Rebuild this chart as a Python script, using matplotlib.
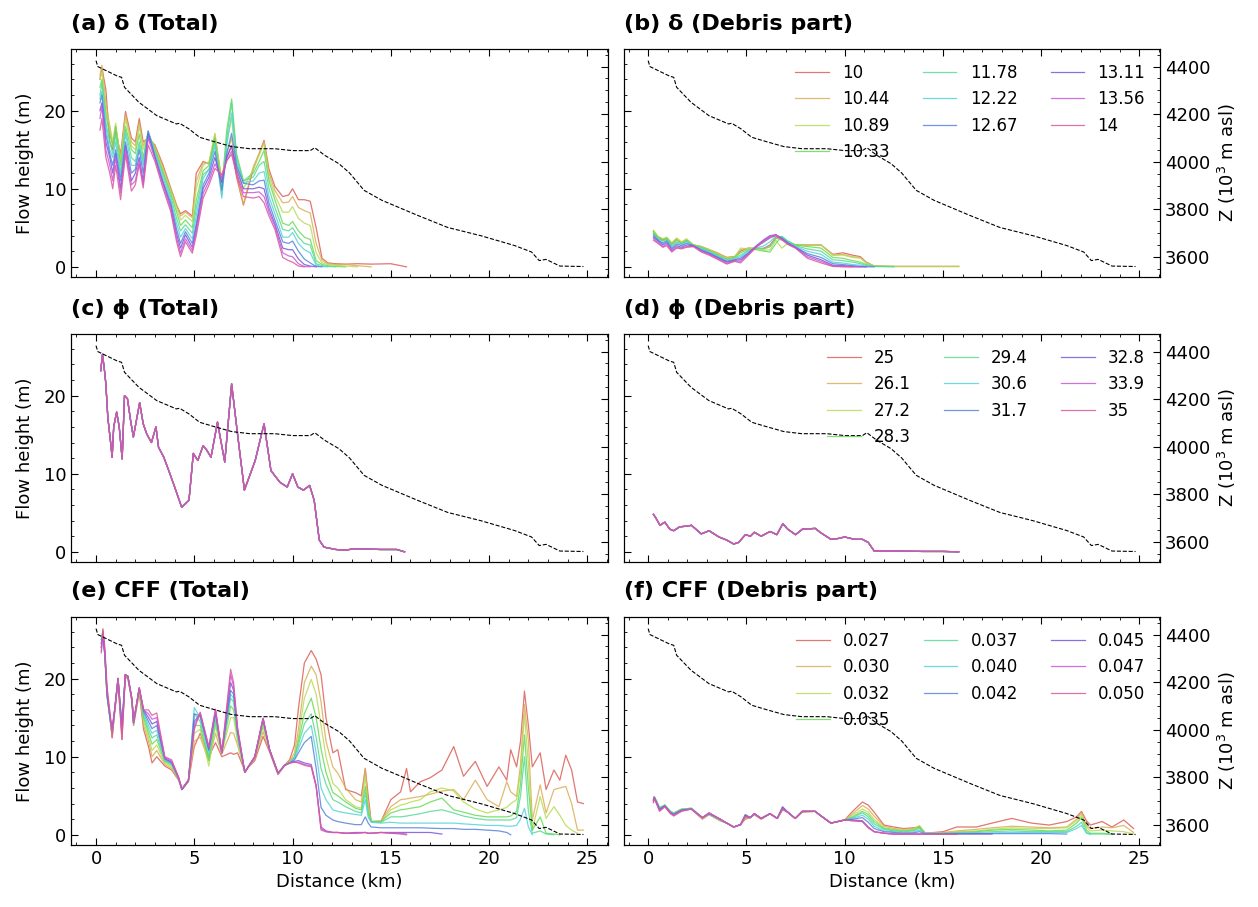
import numpy as np
import matplotlib
matplotlib.use("Agg")
import matplotlib.pyplot as plt
import seaborn as sns
from matplotlib.ticker import MultipleLocator

N = None

# ===== elevation profile (same in every panel) =====
dist_z = [0, 0.09, 1.09, 1.3, 1.45, 2.18, 3.09, 4.09, 4.25, 4.73, 5.27, 6.0, 6.9, 7.82, 9.09,
          10.0, 10.9, 11.13, 11.64, 12.36, 12.9, 13.64, 14.55, 15.27, 16.36, 17.9, 19.6, 21.3,
          22.16, 22.55, 22.9, 23.6, 24.8]
elev_z = [4425, 4400, 4360, 4355, 4313, 4250, 4194, 4159, 4162, 4138, 4103, 4085, 4064, 4055, 4055,
          4047, 4047, 4059, 4027, 3992, 3953, 3880, 3838, 3813, 3775, 3724, 3689, 3648,
          3621, 3585, 3590, 3562, 3560]

# ===== legend labels =====
lab_delta = ["10", "10.44", "10.89", "10.33", "11.78", "12.22", "12.67", "13.11", "13.56", "14"]
lab_phi = ["25", "26.1", "27.2", "28.3", "29.4", "30.6", "31.7", "32.8", "33.9", "35"]
lab_cff = ["0.027", "0.030", "0.032", "0.035", "0.037", "0.040", "0.042", "0.045", "0.047", "0.050"]

# ===== (a) delta, total flow height: one row per distance, one column per value =====
dist_a = [0.2, 0.3, 0.5, 0.7, 0.85, 1.0, 1.25, 1.5, 1.8, 2.0, 2.2, 2.4, 2.65, 3.0, 3.4, 3.8, 4.1,
          4.3, 4.55, 4.9, 5.1, 5.45, 5.75, 6.05, 6.4, 6.65, 6.9, 7.15, 7.5, 8.0, 8.3, 8.55, 8.8,
          9.1, 9.5, 9.8, 10.0, 10.3, 10.6, 10.9, 11.2, 11.5, 11.8, 12.2, 12.7, 13.3, 14.0, 15.0, 15.8]
h_a = [
    [24, 24.5, 24, 23, 22, 21.5, 21, 20, 19, 17.5],
    [25.5, 25.8, 25, 24, 23.5, 22.5, 22, 21, 20.5, 19],
    [22.7, 21, 20, 19.5, 18.5, 18, 17, 16, 15, 14],
    [16, 18, 18, 17, 16, 15, 14.5, 14, 13, 12],
    [15, 15.5, 16, 15.5, 14.5, 14, 13, 12, 11, 10],
    [17.5, 18, 18.4, 18, 17, 16, 15, 14.5, 14, 13],
    [14.4, 14, 13.5, 13, 12, 11.5, 11, 10, 9.5, 8.6],
    [19.9, 19.5, 19, 18, 17.5, 17, 16, 15.5, 15, 14.4],
    [16.5, 16, 15.5, 15, 14, 13, 12, 11, 10.5, 9.7],
    [16, 15.5, 15, 14.5, 13.5, 13, 12.5, 12, 11, 10.5],
    [19, 18.5, 18, 17, 16, 15.5, 15, 14, 13.5, 13.1],
    [16, 15.5, 15, 14, 13.5, 13, 12, 11, 10.5, 10.1],
    [16.5, 16.8, 17, 17.2, 17.3, 17.4, 17.4, 17, 16.5, 15.6],
    [15.6, 15.4, 15.2, 15, 14.8, 14.5, 14.2, 14, 13.8, 13.5],
    [13.1, 12.8, 12.5, 12.2, 11.9, 11.5, 11, 10.8, 10.5, 10.1],
    [10.1, 9.9, 9.7, 9.4, 9, 8.6, 8.2, 7.8, 7.5, 7.1],
    [7.9, 7.9, 7.5, 7, 6.2, 5.5, 4.8, 4.2, 3.7, 3.2],
    [6.8, 6.5, 6, 5.3, 4.6, 3.8, 3, 2.4, 1.8, 1.3],
    [7.2, 7, 6.6, 6, 5.4, 4.9, 4.5, 4.1, 3.6, 3.2],
    [6.5, 6.3, 5.8, 5.0, 4.3, 3.6, 3.0, 2.5, 2.1, 1.75],
    [12, 11, 10, 8.5, 7.5, 6.5, 5.5, 5, 4.5, 4],
    [13.5, 13.3, 13, 12.3, 11.8, 11.3, 10.5, 10, 9.4, 8.8],
    [13.2, 13.2, 13.5, 13, 12.5, 12.5, 12, 11.5, 11, 10.5],
    [16.5, 17, 17.1, 16.5, 16, 15.5, 14.8, 14, 13.2, 12.6],
    [11, 11, 10.5, 10, 9.2, 8.8, 9.8, 10.8, 11.4, 11.8],
    [14, 14.5, 16, 17.5, 16.5, 15.5, 14.5, 14, 13.6, 13.6],
    [15.5, 16.5, 19, 21.5, 21, 19.7, 17.1, 15.5, 14.8, 14.4],
    [11.5, 12, 13, 14.5, 14, 13.5, 13, 12.5, 12, 11.8],
    [7.9, 8.0, 10, 11, 11, 10.8, 10.7, 10, 9.5, 9],
    [12.5, 12.8, 12.5, 12, 11.5, 11, 10.5, 10, 9.5, 8.8],
    [14.5, 14.5, 14.3, 13.5, 13, 12, 11, 10.2, 9.6, 9],
    [16.2, 16, 15.8, 14.9, 13.5, 12.2, 11.1, 10.0, 9.0, 8.2],
    [12.5, 12, 11.5, 11, 10, 9, 8.2, 7.5, 7, 6.5],
    [10.3, 9.8, 9.2, 8.6, 7.6, 6.8, 6, 5.5, 5.2, 4.8],
    [9.0, 8.2, 7.0, 5.6, 4.8, 3.8, 3.2, 2.4, 1.8, 1.2],
    [9.2, 8.3, 7.0, 5.3, 4.6, 3.8, 3.0, 2.2, 1.4, 0.8],
    [10.0, 9.0, 7.7, 5.8, 5.0, 4.4, 3.3, 2.2, 1.3, 0.6],
    [8.6, 7.6, 6.2, 4.6, 3.8, 3.0, 2.0, 1.0, 0.4, 0.1],
    [8.6, 7.2, 5.6, 3.8, 3.0, 2.2, 1.0, 0.3, 0.05, 0.0],
    [8.4, 6.9, 5.3, 3.5, 2.8, 1.8, 0.5, 0.1, 0.0, N],
    [5.0, 3.0, 1.8, 0.8, 0.4, 0.2, 0.05, 0.0, N, N],
    [1.1, 0.8, 0.5, 0.3, 0.15, 0.05, 0.0, N, N, N],
    [0.5, 0.4, 0.3, 0.15, 0.05, 0.0, N, N, N, N],
    [0.4, 0.3, 0.2, 0.05, 0.0, N, N, N, N, N],
    [0.35, 0.3, 0.1, 0.0, N, N, N, N, N, N],
    [0.4, 0.15, 0.0, N, N, N, N, N, N, N],
    [0.35, 0.0, N, N, N, N, N, N, N, N],
    [0.4, N, N, N, N, N, N, N, N, N],
    [0.0, N, N, N, N, N, N, N, N, N],
]

# ===== (b) delta, debris part =====
dist_b = [0.27, 0.5, 0.75, 0.95, 1.2, 1.45, 1.7, 1.95, 2.3, 2.7, 3.1, 3.5, 4.0, 4.4, 4.7, 5.1, 5.5,
          5.9, 6.2, 6.5, 6.8, 7.1, 7.5, 8.1, 8.8, 9.4, 9.9, 10.4, 10.8, 11.1, 11.5, 12.5, 14.0, 15.8]
h_b = [
    [4.3, 4.6, 4.7, 4.5, 4.3, 4.1, 4.0, 3.8, 3.6, 3.4],
    [3.6, 3.8, 3.9, 3.8, 3.6, 3.5, 3.4, 3.3, 3.1, 3.0],
    [3.4, 3.5, 3.6, 3.5, 3.3, 3.1, 3.0, 2.8, 2.6, 2.5],
    [3.7, 3.7, 3.8, 3.6, 3.5, 3.4, 3.3, 3.1, 2.9, 2.7],
    [2.9, 3.0, 3.1, 2.9, 2.7, 2.6, 2.4, 2.2, 2.0, 1.9],
    [3.6, 3.6, 3.7, 3.4, 3.2, 3.1, 2.9, 2.7, 2.5, 2.4],
    [3.0, 3.1, 3.2, 3.0, 2.9, 2.8, 2.7, 2.5, 2.4, 2.3],
    [3.4, 3.5, 3.6, 3.4, 3.3, 3.2, 3.0, 2.8, 2.6, 2.5],
    [2.8, 2.8, 2.8, 2.8, 2.7, 2.7, 2.7, 2.7, 2.6, 2.6],
    [2.6, 2.6, 2.6, 2.5, 2.4, 2.3, 2.2, 2.1, 2.0, 1.9],
    [2.2, 2.2, 2.2, 2.1, 2.0, 1.9, 1.8, 1.7, 1.6, 1.5],
    [1.8, 1.8, 1.7, 1.6, 1.5, 1.4, 1.3, 1.2, 1.1, 1.0],
    [1.2, 1.2, 1.1, 1.0, 0.9, 0.8, 0.7, 0.6, 0.45, 0.35],
    [1.3, 1.3, 1.25, 1.2, 1.1, 1.0, 0.9, 0.85, 0.75, 0.7],
    [2.0, 2.2, 2.4, 1.8, 1.5, 1.3, 1.1, 0.9, 0.7, 0.5],
    [2.4, 2.4, 2.3, 2.2, 2.1, 2.0, 1.8, 1.7, 1.6, 1.5],
    [2.3, 2.4, 2.5, 2.2, 2.3, 2.4, 2.6, 2.7, 2.6, 2.5],
    [2.4, 2.3, 2.1, 2.0, 2.3, 2.7, 3.2, 3.5, 3.4, 3.3],
    [2.8, 2.6, 2.2, 1.9, 2.6, 3.2, 3.7, 4.0, 3.9, 3.8],
    [3.8, 3.7, 3.4, 3.0, 3.6, 4.0, 4.1, 4.1, 4.1, 4.0],
    [3.6, 3.4, 2.4, 3.9, 3.9, 3.8, 3.7, 3.6, 3.5, 3.5],
    [3.2, 3.2, 3.0, 3.3, 3.3, 3.2, 3.1, 3.0, 2.9, 2.9],
    [2.8, 2.8, 2.8, 2.8, 2.7, 2.6, 2.5, 2.5, 2.4, 2.4],
    [2.8, 2.8, 2.8, 2.6, 2.3, 2.0, 1.7, 1.5, 1.3, 1.1],
    [2.8, 2.8, 2.8, 2.4, 2.0, 1.6, 1.2, 0.9, 0.7, 0.5],
    [1.6, 1.5, 1.5, 1.2, 0.9, 0.6, 0.4, 0.2, 0.1, 0.05],
    [1.8, 1.6, 1.5, 1.1, 0.8, 0.5, 0.3, 0.15, 0.05, 0.0],
    [1.5, 1.3, 1.2, 0.8, 0.6, 0.3, 0.15, 0.05, 0.0, 0.0],
    [1.3, 1.2, 1.1, 0.6, 0.4, 0.2, 0.05, 0.0, 0.0, N],
    [0.6, 0.5, 0.5, 0.3, 0.2, 0.1, 0.0, 0.0, N, N],
    [0.1, 0.1, 0.1, 0.05, 0.05, 0.05, 0.0, N, N, N],
    [0.05, 0.05, 0.05, 0.05, 0.0, N, N, N, N, N],
    [0.05, 0.05, 0.05, N, N, N, N, N, N, N],
    [0.05, 0.05, 0.05, N, N, N, N, N, N, N],
]

# ===== (c) phi, total: all ten runs overlap =====
dist_c = [0.24, 0.33, 0.45, 0.5, 0.6, 0.73, 0.82, 0.9, 1.05, 1.18, 1.33, 1.45, 1.6, 1.76, 1.9,
          2.22, 2.4, 2.58, 2.82, 3.05, 3.18, 3.45, 3.73, 4.0, 4.36, 4.73, 4.95, 5.18, 5.45, 5.64,
          5.85, 6.18, 6.55, 6.9, 7.18, 7.55, 8.1, 8.55, 8.9, 9.36, 9.73, 10.0, 10.27, 10.55,
          10.87, 11.1, 11.36, 11.6, 12.2, 12.7, 13.1, 14.5, 15.3, 15.7]
h_c = [23.2, 25.3, 22.8, 21.5, 17.2, 14.3, 12.1, 16.0, 17.9, 16.0, 11.9, 20.0, 19.6, 16.8, 14.7,
       19.1, 16.4, 15.1, 14.0, 16.0, 13.4, 12.1, 10.2, 8.3, 5.7, 6.6, 12.6, 11.7, 13.6, 13.0,
       12.1, 16.6, 11.5, 21.5, 15.5, 7.9, 11.7, 16.4, 10.4, 8.9, 8.3, 10.0, 8.3, 7.9,
       8.5, 6.6, 1.5, 0.6, 0.3, 0.2, 0.4, 0.3, 0.3, 0.0]

# ===== (d) phi, debris part =====
dist_d = [0.27, 0.4, 0.6, 0.85, 1.1, 1.3, 1.6, 2.0, 2.2, 2.7, 3.1, 3.6, 4.0, 4.35, 4.6, 4.95, 5.2,
          5.4, 5.75, 6.2, 6.55, 6.85, 7.1, 7.5, 7.85, 8.5, 8.75, 9.3, 9.65, 10.0, 10.5, 10.9,
          11.2, 11.5, 12.5, 14.0, 15.0, 15.8]
h_d = [4.8, 4.3, 3.4, 3.8, 2.9, 2.7, 3.2, 3.3, 3.4, 2.3, 2.7, 1.9, 1.5, 1.0, 1.2, 2.2, 2.0,
       2.5, 2.0, 2.6, 2.2, 3.6, 2.9, 2.2, 2.9, 3.0, 2.5, 1.6, 1.7, 1.9, 1.6, 1.6,
       1.2, 0.1, 0.1, 0.05, 0.05, 0.0]

# ===== (e) CFF, total =====
dist_e = [0.27, 0.35, 0.45, 0.56, 0.73, 0.82, 0.95, 1.12, 1.32, 1.49, 1.62, 1.83, 1.91, 2.2, 2.42,
          2.67, 2.85, 3.09, 3.5, 3.85, 4.2, 4.37, 4.7, 5.0, 5.3, 5.74, 6.08, 6.4, 6.85, 7.0, 7.2,
          7.57, 8.08, 8.5, 8.83, 9.26, 9.6, 9.85, 10.1, 10.3, 10.6, 10.95, 11.2, 11.45, 11.7,
          12.05, 12.3, 12.7, 13.2, 13.5, 13.7, 13.85, 14.0, 14.5, 15.0, 15.5, 15.8, 16.0, 16.5,
          17.0, 17.6, 18.2, 18.7, 19.3, 19.9, 20.5, 20.9, 21.1, 21.4, 21.6, 21.8, 22.0, 22.2,
          22.6, 22.9, 23.3, 23.6, 23.9, 24.2, 24.5, 24.8]
h_e = [
    [24.0, 24.5, 25.0, 25.0, 25.0, 24.5, 24.5, 24.0, 23.5, 23.3],
    [26.4, 26.2, 26.0, 26.0, 25.8, 25.8, 25.8, 25.8, 26.0, 26.2],
    [22.9, 23.0, 23.0, 23.0, 23.0, 23.0, 23.0, 23.2, 23.5, 24.0],
    [17.7, 17.8, 18.0, 18.0, 18.0, 18.0, 18.0, 18.2, 18.5, 19.0],
    [14.7, 14.5, 14.5, 14.5, 14.5, 14.6, 14.7, 14.8, 15.0, 15.2],
    [12.4, 12.5, 12.8, 13.0, 13.0, 13.2, 13.4, 13.6, 13.5, 12.5],
    [15.6, 15.8, 16.0, 16.0, 16.0, 16.0, 16.0, 16.0, 16.0, 16.0],
    [19.5, 19.8, 20.0, 20.1, 20.0, 20.0, 20.0, 20.0, 20.0, 20.0],
    [12.2, 12.8, 13.2, 13.5, 13.9, 13.9, 13.8, 13.5, 13.0, 12.2],
    [20.2, 20.4, 20.5, 20.5, 20.5, 20.5, 20.5, 20.5, 20.5, 20.5],
    [20.0, 20.2, 20.3, 20.3, 20.3, 20.3, 20.3, 20.3, 20.3, 20.3],
    [17.0, 17.1, 17.2, 17.3, 17.3, 17.3, 17.3, 17.3, 17.3, 17.3],
    [14.0, 14.1, 14.2, 14.3, 14.3, 14.3, 14.3, 14.4, 14.4, 14.5],
    [18.2, 18.4, 18.6, 18.8, 18.8, 18.8, 18.8, 18.8, 18.8, 18.8],
    [13.5, 14.0, 14.5, 15.0, 15.3, 15.6, 15.8, 16.0, 16.0, 16.0],
    [11.3, 12.0, 12.5, 13.0, 13.5, 14.0, 14.5, 15.0, 15.5, 16.0],
    [9.2, 10.0, 10.8, 11.6, 12.4, 13.0, 13.6, 14.2, 14.8, 15.3],
    [10.0, 10.8, 11.5, 12.2, 12.8, 13.4, 14.0, 14.5, 15.0, 15.6],
    [8.8, 9.0, 9.2, 9.4, 9.5, 9.6, 9.7, 9.8, 9.9, 10.0],
    [8.3, 8.5, 8.7, 8.9, 9.0, 9.1, 9.2, 9.3, 9.4, 9.6],
    [7.0, 7.1, 7.2, 7.2, 7.2, 7.2, 7.3, 7.3, 7.3, 7.4],
    [5.8, 5.8, 5.8, 5.8, 5.8, 5.8, 5.8, 5.8, 5.9, 5.9],
    [6.8, 6.8, 6.9, 6.9, 6.9, 6.9, 6.9, 7.0, 7.0, 7.0],
    [11.3, 12.0, 13.0, 14.0, 15.5, 16.3, 15.5, 14.5, 14.0, 13.5],
    [13.0, 12.5, 13.5, 14.0, 14.5, 15.0, 15.2, 15.5, 15.6, 15.7],
    [10.0, 9.5, 8.8, 9.5, 10.0, 10.5, 10.8, 11.0, 11.2, 11.3],
    [11.8, 13.0, 14.0, 14.5, 15.0, 15.3, 15.6, 15.8, 16.0, 16.1],
    [10.0, 10.3, 10.5, 10.5, 10.5, 10.5, 10.5, 10.5, 10.5, 10.5],
    [10.5, 13.1, 15.0, 16.5, 17.5, 18.0, 18.5, 19.5, 20.5, 21.2],
    [10.3, 13.0, 15.0, 16.0, 17.0, 17.5, 18.0, 18.5, 19.0, 19.5],
    [10.5, 11.5, 12.0, 12.5, 12.8, 13.0, 13.2, 13.4, 13.6, 13.8],
    [8.2, 8.1, 8.0, 8.0, 8.0, 8.0, 8.0, 8.0, 8.0, 8.0],
    [9.5, 9.8, 10.0, 10.0, 10.0, 10.0, 10.0, 10.0, 10.0, 10.0],
    [12.6, 13.2, 13.8, 14.2, 14.5, 14.8, 14.9, 14.9, 14.9, 14.9],
    [10.6, 10.8, 10.9, 10.9, 10.9, 10.9, 10.9, 10.9, 10.9, 10.9],
    [7.7, 7.8, 7.9, 7.9, 7.9, 7.9, 7.9, 7.9, 7.9, 7.9],
    [8.9, 8.9, 8.9, 8.9, 8.9, 8.9, 8.9, 8.9, 8.9, 8.9],
    [9.6, 9.4, 9.3, 9.2, 9.2, 9.2, 9.2, 9.2, 9.2, 9.2],
    [11.5, 10.5, 10.0, 10.0, 10.0, 9.8, 9.6, 9.4, 9.3, 9.3],
    [16.2, 13.5, 12.5, 12.0, 11.5, 11.0, 10.5, 9.5, 9.3, 9.2],
    [22.0, 19.5, 17.5, 15.5, 14.2, 13.0, 11.8, 9.2, 9.0, 8.9],
    [23.6, 21.6, 19.9, 17.5, 15.5, 14.0, 12.6, 9.0, 8.8, 8.7],
    [22.5, 20.5, 18.0, 15.0, 12.5, 10.5, 8.5, 6.3, 6.2, 6.2],
    [20.5, 17.0, 14.0, 11.0, 8.5, 6.0, 3.5, 1.0, 0.8, 0.6],
    [15.0, 12.0, 10.0, 8.0, 6.5, 4.5, 2.5, 0.5, 0.4, 0.4],
    [10.5, 8.7, 6.6, 5.4, 4.5, 3.2, 1.9, 0.3, 0.3, 0.3],
    [10.9, 7.9, 6.0, 5.0, 4.2, 3.0, 1.7, 0.3, 0.3, 0.3],
    [5.8, 6.0, 4.5, 4.2, 3.6, 2.8, 1.5, 0.2, 0.2, 0.2],
    [5.4, 4.5, 3.6, 3.4, 3.0, 2.6, 1.3, 0.3, 0.2, 0.2],
    [5.0, 4.2, 3.4, 3.2, 2.8, 2.5, 1.3, 0.3, 0.25, 0.25],
    [8.5, 8.5, 7.5, 6.2, 5.4, 4.5, 2.3, 0.3, 0.3, 0.3],
    [5.0, 4.0, 3.5, 3.0, 2.6, 2.2, 1.5, 0.2, 0.2, 0.2],
    [1.7, 1.7, 1.7, 1.7, 1.7, 1.6, 1.0, 0.2, 0.2, 0.2],
    [1.7, 1.8, 1.7, 1.7, 1.6, 1.5, 0.9, 0.3, 0.3, 0.3],
    [4.5, 3.6, 3.2, 2.8, 2.3, 1.6, 0.9, 0.3, 0.2, 0.2],
    [5.5, 4.5, 3.8, 3.2, 2.3, 1.5, 0.9, 0.3, 0.2, 0.1],
    [8.5, 4.6, 4.0, 3.3, 2.4, 1.5, 0.9, 0.3, 0.1, 0.0],
    [5.5, 4.7, 4.2, 3.4, 2.5, 1.5, 0.9, 0.3, N, N],
    [6.8, 4.9, 4.5, 3.6, 2.7, 1.5, 0.9, 0.3, N, N],
    [7.3, 5.2, 5.5, 4.2, 3.0, 1.5, 0.85, 0.3, N, N],
    [8.3, 5.6, 6.0, 4.7, 3.2, 1.5, 0.8, 0.1, N, N],
    [11.3, 5.8, 5.6, 3.2, 2.8, 1.5, 0.8, N, N, N],
    [7.5, 4.5, 4.2, 2.9, 2.4, 1.4, 0.7, N, N, N],
    [9.4, 7.0, 3.3, 2.5, 2.1, 1.3, 0.7, N, N, N],
    [6.2, 4.5, 2.8, 2.3, 1.9, 1.2, 0.6, N, N, N],
    [8.7, 3.6, 3.2, 2.3, 1.9, 1.2, 0.5, N, N, N],
    [7.0, 6.8, 3.5, 2.3, 1.9, 1.1, 0.3, N, N, N],
    [10.9, 5.5, 4.0, 2.4, 1.9, 1.1, 0.0, N, N, N],
    [8.7, 4.9, 4.5, 3.0, 2.2, 1.2, N, N, N, N],
    [12.0, 9.0, 8.0, 6.5, 5.0, 2.0, N, N, N, N],
    [18.4, 16.7, 15.4, 12.8, 10.0, 3.4, N, N, N, N],
    [14.0, 12.0, 9.0, 6.0, 3.0, 1.0, N, N, N, N],
    [8.7, 1.9, 0.6, 0.6, 0.2, 0.0, N, N, N, N],
    [10.5, 6.4, 4.9, 2.3, 0.5, N, N, N, N, N],
    [5.8, 2.8, 2.1, 0.2, 0.1, N, N, N, N, N],
    [8.3, 5.8, 3.6, 0.1, 0.0, N, N, N, N, N],
    [7.0, 6.0, 2.5, 0.0, N, N, N, N, N, N],
    [10.2, 6.2, 1.2, N, N, N, N, N, N, N],
    [8.3, 4.0, 0.6, N, N, N, N, N, N, N],
    [4.2, 0.6, 0.2, N, N, N, N, N, N, N],
    [4.0, 0.6, N, N, N, N, N, N, N, N],
]

# ===== (f) CFF, debris part =====
dist_f = [0.27, 0.31, 0.45, 0.58, 0.85, 1.13, 1.3, 1.7, 2.2, 2.76, 3.1, 3.67, 4.0, 4.35, 4.7, 4.94,
          5.2, 5.4, 5.75, 6.2, 6.57, 6.84, 7.1, 7.48, 7.84, 8.5, 8.75, 9.3, 9.65, 10.0, 10.4,
          10.9, 11.2, 11.5, 12.0, 12.5, 13.0, 13.5, 13.8, 14.1, 15.0, 15.7, 16.7, 17.5, 18.5,
          19.5, 20.4, 21.3, 21.8, 22.05, 22.3, 22.5, 23.1, 23.6, 24.2, 24.7]
h_f = [
    [4.4, 4.5, 4.6, 4.6, 4.5, 4.5, 4.4, 4.3, 4.2, 4.1],
    [4.8, 4.8, 4.9, 4.9, 4.8, 4.8, 4.8, 4.8, 4.7, 4.7],
    [4.0, 4.1, 4.2, 4.2, 4.1, 4.1, 4.0, 4.0, 3.9, 3.8],
    [3.3, 3.4, 3.5, 3.5, 3.4, 3.4, 3.3, 3.2, 3.1, 3.0],
    [3.7, 3.8, 3.8, 3.8, 3.8, 3.7, 3.7, 3.7, 3.6, 3.6],
    [2.9, 3.0, 3.0, 3.0, 2.9, 2.9, 2.9, 2.8, 2.8, 2.7],
    [2.7, 2.7, 2.8, 2.8, 2.7, 2.7, 2.6, 2.6, 2.5, 2.4],
    [3.2, 3.2, 3.3, 3.3, 3.2, 3.2, 3.2, 3.1, 3.1, 3.0],
    [3.3, 3.3, 3.4, 3.4, 3.4, 3.3, 3.3, 3.3, 3.3, 3.3],
    [2.0, 2.1, 2.1, 2.2, 2.2, 2.2, 2.2, 2.2, 2.2, 2.2],
    [2.6, 2.6, 2.7, 2.7, 2.7, 2.7, 2.7, 2.8, 2.8, 2.8],
    [1.8, 1.8, 1.9, 1.9, 1.9, 1.9, 2.0, 2.0, 2.0, 2.0],
    [1.5, 1.5, 1.5, 1.5, 1.5, 1.5, 1.5, 1.5, 1.5, 1.5],
    [1.0, 1.0, 1.0, 1.0, 1.0, 1.0, 1.0, 1.0, 1.0, 1.0],
    [1.3, 1.3, 1.3, 1.3, 1.3, 1.3, 1.3, 1.3, 1.3, 1.3],
    [2.0, 2.1, 2.2, 2.3, 2.4, 2.5, 2.6, 2.5, 2.4, 2.3],
    [2.2, 2.2, 2.2, 2.2, 2.2, 2.2, 2.2, 2.2, 2.2, 2.2],
    [2.6, 2.6, 2.7, 2.7, 2.7, 2.7, 2.7, 2.7, 2.7, 2.7],
    [2.0, 2.0, 2.1, 2.1, 2.1, 2.1, 2.1, 2.1, 2.1, 2.1],
    [2.7, 2.7, 2.7, 2.7, 2.7, 2.7, 2.7, 2.7, 2.7, 2.7],
    [2.1, 2.1, 2.1, 2.1, 2.1, 2.1, 2.1, 2.1, 2.1, 2.1],
    [3.2, 3.3, 3.4, 3.5, 3.5, 3.5, 3.6, 3.5, 3.4, 3.3],
    [2.9, 2.9, 2.9, 2.9, 2.9, 2.9, 2.9, 2.9, 2.9, 2.9],
    [2.1, 2.1, 2.1, 2.1, 2.1, 2.1, 2.1, 2.1, 2.1, 2.1],
    [2.9, 3.0, 3.0, 3.0, 3.0, 3.0, 3.0, 3.0, 3.0, 3.0],
    [3.0, 3.0, 3.0, 3.0, 3.0, 3.0, 3.0, 3.0, 3.0, 3.0],
    [2.5, 2.5, 2.5, 2.5, 2.5, 2.5, 2.5, 2.5, 2.5, 2.5],
    [1.5, 1.5, 1.5, 1.5, 1.5, 1.5, 1.5, 1.5, 1.5, 1.5],
    [1.7, 1.7, 1.7, 1.7, 1.7, 1.7, 1.7, 1.7, 1.7, 1.7],
    [1.9, 1.9, 1.9, 1.9, 1.9, 1.9, 1.9, 1.9, 1.9, 1.9],
    [3.0, 2.7, 2.5, 2.3, 2.2, 2.1, 2.0, 1.9, 1.8, 1.8],
    [4.2, 3.75, 3.3, 3.0, 2.8, 2.5, 2.2, 1.8, 1.7, 1.7],
    [3.8, 3.3, 2.9, 2.6, 2.3, 2.0, 1.6, 1.0, 0.9, 0.9],
    [2.9, 2.4, 2.0, 1.7, 1.4, 1.1, 0.8, 0.4, 0.4, 0.4],
    [1.25, 1.1, 0.9, 0.8, 0.7, 0.5, 0.4, 0.2, 0.2, 0.2],
    [1.0, 0.8, 0.7, 0.6, 0.5, 0.4, 0.3, 0.1, 0.1, 0.1],
    [0.8, 0.7, 0.6, 0.5, 0.4, 0.3, 0.2, 0.1, 0.1, 0.1],
    [0.9, 0.8, 0.7, 0.6, 0.5, 0.35, 0.25, 0.1, 0.1, 0.1],
    [1.0, 1.1, 1.2, 1.0, 0.8, 0.6, 0.4, 0.1, 0.1, 0.1],
    [0.2, 0.2, 0.2, 0.2, 0.2, 0.2, 0.15, 0.1, 0.1, 0.1],
    [0.4, 0.3, 0.25, 0.2, 0.2, 0.15, 0.15, 0.1, 0.1, 0.1],
    [1.0, 0.5, 0.4, 0.3, 0.25, 0.2, 0.15, 0.1, 0.05, 0.05],
    [1.0, 0.7, 0.5, 0.4, 0.3, 0.2, 0.15, 0.1, N, N],
    [1.5, 0.9, 0.7, 0.6, 0.4, 0.25, 0.15, 0.1, N, N],
    [2.1, 1.1, 0.9, 0.7, 0.5, 0.3, 0.15, N, N, N],
    [1.5, 1.0, 0.8, 0.6, 0.4, 0.3, 0.15, N, N, N],
    [1.25, 0.9, 0.8, 0.5, 0.4, 0.3, 0.15, N, N, N],
    [1.7, 1.0, 0.9, 0.6, 0.4, 0.3, 0.1, N, N, N],
    [2.3, 2.0, 1.8, 1.5, 1.1, 0.8, N, N, N, N],
    [3.0, 2.8, 2.5, 2.2, 1.6, 1.2, N, N, N, N],
    [1.8, 1.2, 1.0, 0.6, 0.3, 0.2, N, N, N, N],
    [1.25, 0.8, 0.5, 0.2, 0.1, 0.05, N, N, N, N],
    [1.7, 1.0, 0.6, 0.2, 0.1, N, N, N, N, N],
    [1.0, 0.9, 0.5, 0.1, 0.05, N, N, N, N, N],
    [1.9, 1.2, 0.4, N, N, N, N, N, N, N],
    [0.8, 0.3, 0.1, N, N, N, N, N, N, N],
]

colors = sns.color_palette("hls", 10)

# axes boxes in figure fractions (left, bottom, width, height)
col_x = [0.0568, 0.4957]
row_y = [0.6946, 0.3804, 0.0684]
ax_w, ax_h = 0.4265, 0.2514


def draw_panel(fig, row, col, dist, table, labels, title, single=None):
    ax = fig.add_axes([col_x[col], row_y[row], ax_w, ax_h])
    ax2 = ax.twinx()

    if single is not None:
        for i in range(10):
            ax.plot(dist, single, color=colors[i], lw=0.9, alpha=0.85, label=labels[i])
    else:
        H = np.array(table, dtype=float).T
        for i in range(10):
            ax.plot(dist, H[i], color=colors[i], lw=0.9, alpha=0.85, label=labels[i])

    ax2.plot(dist_z, elev_z, color="black", ls="--", lw=0.8)

    ax.set_xlim(-1.25, 26.05)
    ax.set_ylim(-1.3, 27.9)
    ax2.set_ylim(3516, 4474)

    ax.xaxis.set_major_locator(MultipleLocator(5))
    ax.xaxis.set_minor_locator(MultipleLocator(1))
    ax.yaxis.set_major_locator(MultipleLocator(10))
    ax.yaxis.set_minor_locator(MultipleLocator(2))
    ax2.yaxis.set_major_locator(MultipleLocator(200))
    ax2.yaxis.set_minor_locator(MultipleLocator(50))

    ax.tick_params(which="both", direction="in", top=True, right=False, labelsize=13,
                   labelbottom=(row == 2), labelleft=(col == 0))
    ax2.tick_params(which="both", direction="in", right=True, labelsize=13,
                    labelright=(col == 1))
    for a in (ax, ax2):
        a.tick_params(which="major", length=5, width=0.8)
        a.tick_params(which="minor", length=2.5, width=0.6)

    ax.set_title(title, loc="left", fontsize=16, fontweight="bold", pad=14)
    if col == 0:
        ax.set_ylabel("Flow height (m)", fontsize=13, labelpad=7)
    else:
        ax2.set_ylabel("Z (10$^3$ m asl)", fontsize=13)
        ax2.legend(*ax.get_legend_handles_labels(), ncol=3, loc="upper right",
                   frameon=False, fontsize=12)
    if row == 2:
        ax.set_xlabel("Distance (km)", fontsize=13)
    return ax


fig = plt.figure(figsize=(12.58, 9.07), dpi=100)

draw_panel(fig, 0, 0, dist_a, h_a, lab_delta, "(a) δ (Total)")
draw_panel(fig, 0, 1, dist_b, h_b, lab_delta, "(b) δ (Debris part)")
draw_panel(fig, 1, 0, dist_c, None, lab_phi, "(c) ϕ (Total)", single=h_c)
draw_panel(fig, 1, 1, dist_d, None, lab_phi, "(d) ϕ (Debris part)", single=h_d)
draw_panel(fig, 2, 0, dist_e, h_e, lab_cff, "(e) CFF (Total)")
draw_panel(fig, 2, 1, dist_f, h_f, lab_cff, "(f) CFF (Debris part)")

fig.savefig("out.png", dpi=100)
plt.close(fig)
